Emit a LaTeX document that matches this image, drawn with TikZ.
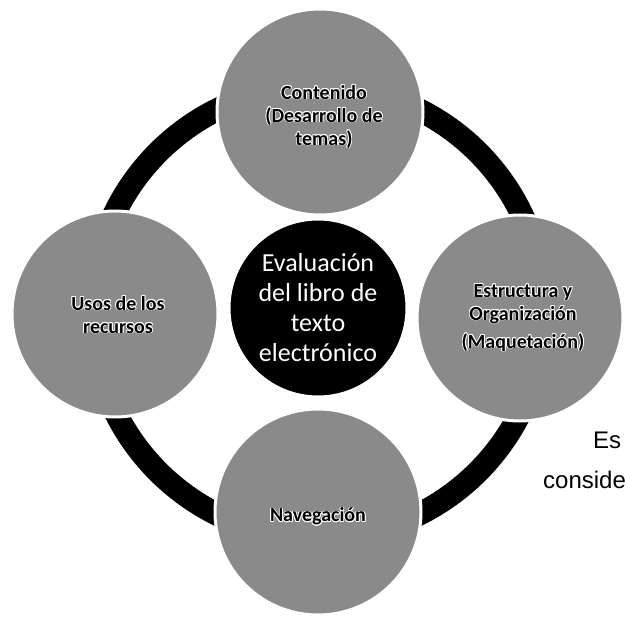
\documentclass[tikz,border=0pt]{standalone}
\usepackage{fontspec}
\setmainfont{Carlito}
\newfontfamily\arialfont{Liberation Sans}
\usepackage[copies]{contour}
\contourlength{0.8pt}
\contournumber{12}
\definecolor{satgray}{HTML}{8A8A8A}
\tikzset{
  sat/.style={circle, fill=satgray, draw=white, line width=3pt, minimum size=206pt, inner sep=0pt},
  hub/.style={circle, fill=black, draw=white, line width=3pt, minimum size=178pt, inner sep=0pt},
  sattext/.style={font=\bfseries\fontsize{20}{23}\selectfont, align=center, text=black},
  hubtext/.style={font=\fontsize{26}{30}\selectfont, align=center, text=white},
  ringstyle/.style={draw=black, line width=23pt},
  sidetext/.style={font=\arialfont\fontsize{24}{28}\selectfont, anchor=base west, inner sep=0pt}
}
\begin{document}
\begin{tikzpicture}[x=1pt, y=-1pt]
\useasboundingbox (0,0) rectangle (625,618);
\clip (0,0) rectangle (625,618);
\coordinate (ringc) at (318,312);
\draw[ringstyle] (ringc) circle[radius=226];
\node[hub] (hub) at (318,308) {};
\node[sat] (top) at (320,112) {};
\node[sat] (left) at (115,314) {};
\node[sat] (right) at (520,318) {};
\node[sat] (bottom) at (318,512) {};
\node[hubtext] (hublabel) at (hub) {Evaluación\\del libro de\\texto\\electrónico};
\node[sattext] (toplabel) at (324,117) {\contour{white}{Contenido}\\\contour{white}{(Desarrollo de}\\\contour{white}{temas)}};
\node[sattext] (leftlabel) at (118,315) {\contour{white}{Usos de los}\\\contour{white}{recursos}};
\node[sattext] (rightlabel) at (523,318) {\contour{white}{Estructura y}\\\contour{white}{Organización}\\[5pt]\contour{white}{(Maquetación)}};
\node[sattext] (bottomlabel) at (318,517) {\contour{white}{Navegación}};
\node[sidetext] (es) at (593,448) {Es};
\node[sidetext] (conside) at (543,488) {conside};
\end{tikzpicture}
\end{document}
